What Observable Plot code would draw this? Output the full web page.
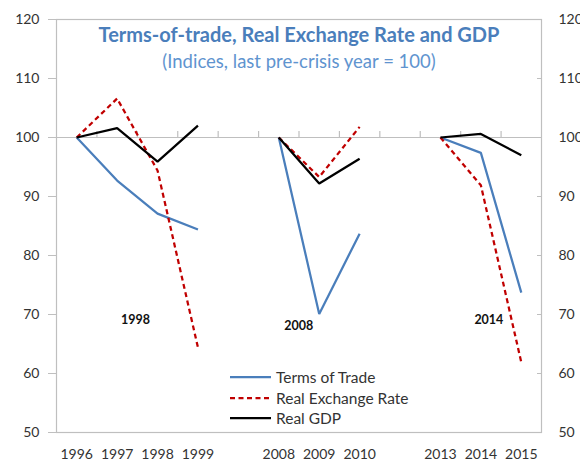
<!DOCTYPE html>
<html>
<head>
<meta charset="utf-8">
<script src="https://cdn.jsdelivr.net/npm/d3@7"></script>
<script src="https://cdn.jsdelivr.net/npm/@observablehq/plot@0.6"></script>
<style>
  html, body { margin: 0; padding: 0; background: #fff; }
  #wrap { position: relative; width: 580px; height: 462px; font-family: Lato, "Open Sans", sans-serif; }
  #legend { position: absolute; left: 230px; top: 367px; font-size: 15.5px; color: #333; }
  #legend .row { display: flex; align-items: center; height: 20.5px; white-space: nowrap; }
  #legend svg { margin-right: 5px; display: block; }
</style>
</head>
<body>
<div id="wrap"></div>
<script>
const categories = ["1996","1997","1998","1999","","2008","2009","2010","","2013","2014","2015"];
const termsOfTrade     = [100, 92.7, 87.1, 84.4, null, 100, 70.1, 83.7, null, 100, 97.4, 73.7];
const realExchangeRate = [100, 106.6, 94.4, 64.4, null, 100, 93.3, 101.8, null, 100, 91.9, 61.9];
const realGDP          = [100, 101.6, 95.9, 102.0, null, 100, 92.2, 96.4, null, 100, 100.6, 97.0];
const yTicks = [50, 60, 70, 80, 90, 100, 110, 120];
const crisisYears = ["1998", "2008", "2014"];
const seriesNames = ["Terms of Trade", "Real Exchange Rate", "Real GDP"];

const seriesStyle = {
  "Terms of Trade": {stroke: "#4a7ebb", dash: null},
  "Real Exchange Rate": {stroke: "#c00000", dash: "5,3.5"},
  "Real GDP": {stroke: "#000000", dash: null}
};

function toRows(values) {
  return values.map((v, i) => ({i, v}));
}
const boundaries = categories.slice(1).map((_, k) => k + 0.5);
const labelDx = {"1998": -22, "2008": 20, "2014": 8};
const labelY = {"1998": 69.0, "2008": 68.1, "2014": 69.0};

const lineMark = (values, name) => Plot.line(toRows(values), {
  x: "i", y: "v",
  stroke: seriesStyle[name].stroke,
  strokeWidth: 2.25,
  strokeDasharray: seriesStyle[name].dash,
  strokeLinejoin: "miter",
  strokeLinecap: "butt",
  defined: d => d.v != null
});

const crisisMarks = crisisYears.map(label => Plot.text([{label, i: categories.indexOf(label)}], {
  x: "i", y: () => labelY[label], text: "label",
  dx: labelDx[label], fontWeight: "bold", fontSize: 12.5, fill: "#111"
}));

const chart = Plot.plot({
  width: 580,
  height: 462,
  marginLeft: 56,
  marginRight: 39,
  marginTop: 19,
  marginBottom: 30,
  style: {fontFamily: "Lato, 'Open Sans', sans-serif", fontSize: "14px", background: "#fff"},
  x: {domain: [-0.5, categories.length - 0.5], axis: null, label: null},
  y: {domain: [50, 120], axis: null, label: null},
  marks: [
    Plot.frame({stroke: "#bfbfbf", strokeWidth: 1.2}),
    Plot.ruleY([100], {stroke: "#bfbfbf", strokeWidth: 1.2}),
    Plot.ruleX(boundaries, {x: d => d, y1: 100, y2: 100, insetTop: -6, stroke: "#bfbfbf", strokeWidth: 1.2}),
    Plot.axisY({anchor: "left", ticks: yTicks, tickSize: 8, tickPadding: 9, stroke: "#bfbfbf", color: "#333", label: null, tickFormat: d => String(d)}),
    Plot.axisY({anchor: "right", ticks: yTicks, tickSize: 5, dx: -5, stroke: "#bfbfbf", label: null, tickFormat: () => ""}),
    Plot.axisY({anchor: "right", ticks: yTicks, tickSize: 0, tickPadding: 17, color: "#333", label: null, tickFormat: d => String(d)}),
    Plot.axisX({anchor: "bottom", ticks: categories.map((_, i) => i), tickSize: 0, tickPadding: 17, color: "#333", label: null, tickFormat: i => categories[i]}),
    lineMark(termsOfTrade, "Terms of Trade"),
    lineMark(realExchangeRate, "Real Exchange Rate"),
    lineMark(realGDP, "Real GDP"),
    ...crisisMarks,
    Plot.text(["Terms-of-trade, Real Exchange Rate and GDP"], {
      frameAnchor: "top", dy: 16, lineAnchor: "middle", fontWeight: "bold", fontSize: 20, fill: "#4a7ebb"
    }),
    Plot.text(["(Indices, last pre-crisis year = 100)"], {
      frameAnchor: "top", dy: 43, lineAnchor: "middle", fontSize: 18.5, fill: "#5f94cf"
    })
  ]
});

const wrap = document.getElementById("wrap");
wrap.appendChild(chart);

const legend = document.createElement("div");
legend.id = "legend";
for (const name of seriesNames) {
  const s = seriesStyle[name];
  const row = document.createElement("div");
  row.className = "row";
  row.innerHTML = `<svg width="41" height="6"><line x1="0" y1="3" x2="41" y2="3" stroke="${s.stroke}" stroke-width="2.25" ${s.dash ? `stroke-dasharray="${s.dash}"` : ""}/></svg><span>${name}</span>`;
  legend.appendChild(row);
}
wrap.appendChild(legend);
</script>
</body>
</html>
